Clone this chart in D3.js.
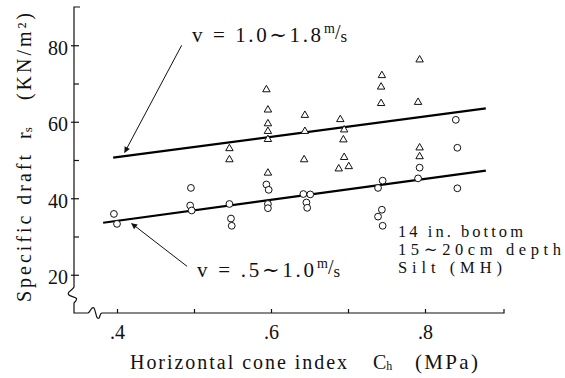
<!DOCTYPE html>
<meta charset="utf-8">
<style>
body { margin: 0; background: #fff; }
svg text { font-family: "Liberation Serif", "DejaVu Serif", "Noto Serif", serif; fill: #111; }
.axis text { font-size: 20px; }
.axis line, .axis-line { stroke: #111; stroke-width: 1.2px; fill: none; }
.fit { stroke: #000; stroke-width: 2.2px; fill: none; }
.arrow { stroke: #111; stroke-width: 1px; }
.pt { fill: #fff; stroke: #111; stroke-width: 1px; }
</style>
<svg width="565" height="378"></svg>
<script src="https://d3js.org/d3.v7.min.js"></script>
<script>

// cone index Ch (MPa) vs specific draft rs (kN/m2)
var highSpeed = [ // v = 1.0~1.8 m/s, triangles
  [0.546, 53.0], [0.546, 50.1],
  [0.594, 68.4], [0.596, 63.1], [0.596, 59.5], [0.596, 57.5], [0.596, 55.4], [0.596, 46.6],
  [0.644, 61.7], [0.644, 57.5], [0.643, 50.1],
  [0.690, 60.6], [0.695, 57.9], [0.694, 55.3], [0.695, 50.7], [0.688, 47.7], [0.701, 48.3],
  [0.744, 72.1], [0.743, 69.1], [0.743, 64.8],
  [0.793, 76.2], [0.791, 65.1], [0.793, 53.2], [0.793, 50.9]
];
var lowSpeed = [ // v = .5~1.0 m/s, circles
  [0.396, 35.9], [0.400, 33.3],
  [0.496, 42.7], [0.495, 38.1], [0.497, 36.8],
  [0.546, 38.5], [0.548, 34.7], [0.549, 32.8],
  [0.594, 43.6], [0.597, 42.2], [0.596, 38.5], [0.596, 37.4],
  [0.642, 41.1], [0.651, 41.0], [0.646, 38.9], [0.647, 37.5],
  [0.745, 44.6], [0.739, 42.7], [0.744, 37.0], [0.739, 35.2], [0.745, 32.8],
  [0.793, 48.0], [0.791, 45.2],
  [0.840, 60.5], [0.842, 53.2], [0.842, 42.6]
];
var highFit = [[0.395, 50.6], [0.879, 63.5]];
var lowFit = [[0.382, 33.6], [0.879, 47.2]];

var xTicks = [0.4, 0.5, 0.6, 0.7, 0.8];
var xLabels = [0.4, 0.6, 0.8];
var yTicks = [20, 30, 40, 50, 60, 70, 80];
var yLabels = [20, 40, 60, 80];

var svg = d3.select("svg");

var x = d3.scaleLinear().domain([0.4, 0.8]).range([117, 425]);
var y = d3.scaleLinear().domain([10, 90]).range([313, 7]);

var x0 = 74, xEnd = 504, yBase = y(10), yTop = y(90);

var defs = svg.append("defs");
defs.append("marker")
    .attr("id", "head")
    .attr("viewBox", "0 0 10 10")
    .attr("refX", 9).attr("refY", 5)
    .attr("markerWidth", 10).attr("markerHeight", 6)
    .attr("markerUnits", "userSpaceOnUse")
    .attr("orient", "auto")
  .append("path")
    .attr("d", "M0,0L10,5L0,10z")
    .style("fill", "#111");

// axis lines with break marks
svg.append("path")
    .attr("class", "axis-line")
    .attr("d", "M" + (x0 + 6) + "," + yTop + "H" + x0 + "V287" +
      "C" + (x0 - 1) + ",290 " + (x0 - 8) + ",292 " + (x0 - 5) + ",295" +
      "C" + (x0 - 2) + ",298 " + (x0 + 7) + ",296 " + x0 + ",303" +
      "V" + yBase + "H88" +
      "C90,312 92,306 94,308" +
      "C96,311 96,320 99,318" +
      "C100,317 100,313 102,313" +
      "H" + xEnd + "V" + (yBase - 4));

var xAxis = svg.append("g")
    .attr("class", "axis")
    .attr("transform", "translate(0," + yBase + ")")
    .call(d3.axisBottom(x).tickValues(xTicks).tickSize(-4)
      .tickFormat(function(d) { return xLabels.indexOf(d) >= 0 ? d3.format(".1f")(d).replace(/^0/, "") : ""; }));
xAxis.attr("font-family", null).attr("font-size", null);
xAxis.select(".domain").remove();
xAxis.selectAll("text").attr("dy", null).attr("y", 26);

var yAxis = svg.append("g")
    .attr("class", "axis")
    .attr("transform", "translate(" + x0 + ",0)")
    .call(d3.axisLeft(y).tickValues(yTicks).tickSize(-5).tickPadding(6)
      .tickFormat(function(d) { return yLabels.indexOf(d) >= 0 ? d : ""; }));
yAxis.attr("font-family", null).attr("font-size", null);
yAxis.select(".domain").remove();
yAxis.selectAll("text").attr("dy", "0.45em");
yAxis.selectAll(".tick").filter(function(d) { return yLabels.indexOf(d) >= 0; })
  .append("line").attr("x1", -3).attr("x2", 0);

// axis titles
function fitText(parent, px, py, size, len, txt) {
  return parent.append("text")
      .attr("x", px).attr("y", py)
      .style("font-size", size + "px")
      .attr("textLength", len).attr("lengthAdjust", "spacing")
      .text(txt);
}

fitText(svg, 130, 369, 20, 217, "Horizontal cone index");
var ch = svg.append("text").attr("x", 373).attr("y", 369).style("font-size", "20px").text("C");
ch.append("tspan").style("font-size", "12px").attr("dy", 1).text("h");
fitText(svg, 415, 369, 21, 63, "(MPa)");

var yt = svg.append("g").attr("transform", "translate(31,302) rotate(-90)");
fitText(yt, 0, 0, 20, 147, "Specific draft");
var rs = yt.append("text").attr("x", 163).attr("y", 0).style("font-size", "20px").text("r");
rs.append("tspan").style("font-size", "13px").attr("dy", 1).text("s");
fitText(yt, 202, 0, 20, 87, "(KN/m²)");

// regression lines
var line = d3.line().x(function(d) { return x(d[0]); }).y(function(d) { return y(d[1]); });
svg.append("path").attr("class", "fit").attr("d", line(highFit));
svg.append("path").attr("class", "fit").attr("d", line(lowFit));

// points
svg.selectAll(".tri")
  .data(highSpeed)
  .enter().append("path")
    .attr("class", "pt")
    .attr("d", d3.symbol().type(d3.symbolTriangle).size(24))
    .attr("transform", function(d) { return "translate(" + x(d[0]) + "," + y(d[1]) + ")"; });

svg.selectAll(".circ")
  .data(lowSpeed)
  .enter().append("circle")
    .attr("class", "pt")
    .attr("cx", function(d) { return x(d[0]); })
    .attr("cy", function(d) { return y(d[1]); })
    .attr("r", 3.4);

// annotations
svg.append("line").attr("class", "arrow")
    .attr("x1", x(0.484)).attr("y1", y(80)).attr("x2", x(0.410)).attr("y2", y(52))
    .attr("marker-end", "url(#head)");
svg.append("line").attr("class", "arrow")
    .attr("x1", x(0.491)).attr("y1", y(22.2)).attr("x2", x(0.419)).attr("y2", y(33.4))
    .attr("marker-end", "url(#head)");

function speedLabel(px, py, len, txt) {
  fitText(svg, px, py, 21, len, txt);
  var u = svg.append("text").attr("x", px + len + 3).attr("y", py - 9).style("font-size", "14px").text("m");
  u.append("tspan").attr("dy", 6).style("font-size", "20px").text("/");
  u.append("tspan").attr("dy", 3).style("font-size", "17px").text("s");
}
speedLabel(192, 42, 129, "v = 1.0\u223c1.8");
speedLabel(197, 277, 117, "v = .5\u223c1.0");

fitText(svg, 398, 237, 16.5, 125, "14 in. bottom");
fitText(svg, 398, 255, 16.5, 163, "15\u223c20cm  depth");
fitText(svg, 398, 273, 16.5, 104, "Silt  (MH)");

</script>
